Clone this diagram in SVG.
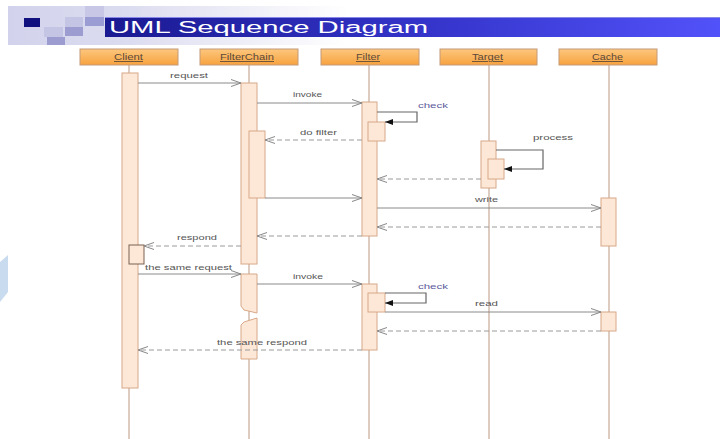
<svg xmlns="http://www.w3.org/2000/svg" width="720" height="439" viewBox="0 0 720 439">
<defs>
<linearGradient id="band" x1="0" y1="0" x2="1" y2="0">
<stop offset="0" stop-color="#d2d2ec"/>
<stop offset="0.35" stop-color="#dcdcf0"/>
<stop offset="1" stop-color="#ffffff"/>
</linearGradient>
<linearGradient id="bar" x1="0" y1="0" x2="1" y2="0">
<stop offset="0" stop-color="#1a1a92"/>
<stop offset="0.5" stop-color="#3333c8"/>
<stop offset="1" stop-color="#5252fa"/>
</linearGradient>
<linearGradient id="head" x1="0" y1="0" x2="0" y2="1">
<stop offset="0" stop-color="#fdc77e"/>
<stop offset="1" stop-color="#f7a23e"/>
</linearGradient>
<marker id="open" markerUnits="userSpaceOnUse" markerWidth="12" markerHeight="10" refX="11" refY="4" orient="auto">
<path d="M1,0.5 L11,4 L1,7.5" fill="none" stroke="#888" stroke-width="1"/>
</marker>
<marker id="fill" markerUnits="userSpaceOnUse" markerWidth="10" markerHeight="8" refX="8" refY="3" orient="auto">
<path d="M0,0 L8,3 L0,6 Z" fill="#111"/>
</marker>
<style>
.hd{fill:url(#head);stroke:#c49a78;stroke-width:1}
.hl{font-family:"Liberation Sans",Arial,sans-serif;font-size:8.5px;fill:#5a4838;text-decoration:underline}
.life{stroke:#d6bfb0;stroke-width:1.6}
.act{fill:#fde8d8;stroke:#d8a888;stroke-width:1}
.msg{stroke:#8a8a8a;stroke-width:1;fill:none;marker-end:url(#open)}
.ret{stroke:#9a9a9a;stroke-width:1;fill:none;stroke-dasharray:5,3;marker-end:url(#open)}
.self{stroke:#666;stroke-width:1.2;fill:none;marker-end:url(#fill)}
.lb{font-family:"Liberation Sans",Arial,sans-serif;font-size:8px;fill:#555}
.lbc{font-family:"Liberation Sans",Arial,sans-serif;font-size:8px;fill:#5a5a9a}
</style>
</defs>
<rect width="720" height="439" fill="#ffffff"/>
<polygon points="0,262 8,255 8,292 0,302" fill="#c9dbee"/>
<g id="header">
<rect x="8" y="6" width="340" height="39" fill="url(#band)"/>
<rect x="44" y="27" width="19" height="10" fill="#c4c4e4"/>
<rect x="65" y="17" width="18" height="10" fill="#c4c4e4"/>
<rect x="47" y="37" width="18" height="8" fill="#9c9cd0"/>
<rect x="65" y="27" width="18" height="9" fill="#9c9cd0"/>
<rect x="85" y="17" width="19" height="9" fill="#9c9cd4"/>
<rect x="85" y="6" width="19" height="11" fill="#c8c8e6"/>
<rect x="24" y="18" width="16" height="9" fill="#10107e"/>
<rect x="105" y="17" width="615" height="20" fill="url(#bar)"/>
<line x1="105" y1="17.5" x2="720" y2="17.5" stroke="#8888e8" stroke-width="1"/>
<text x="109" y="32.5" font-family="Liberation Sans,Arial,sans-serif" font-size="16" fill="#ffffff" textLength="319" lengthAdjust="spacingAndGlyphs">UML Sequence Diagram</text>
</g>
<g id="lifelines">
<line class="life" x1="129" y1="65" x2="129" y2="439"/>
<line class="life" x1="249" y1="65" x2="249" y2="439"/>
<line class="life" x1="369" y1="65" x2="369" y2="439"/>
<line class="life" x1="489" y1="65" x2="489" y2="439"/>
<line class="life" x1="609" y1="65" x2="609" y2="439"/>
</g>
<g id="client">
<rect class="hd" x="80" y="49" width="98" height="16"/>
<text class="hl" x="114" y="60" textLength="29" lengthAdjust="spacingAndGlyphs">Client</text>
<rect class="act" x="122" y="73" width="16" height="315"/>
<rect x="129" y="245" width="15" height="19" fill="#fde8d8" stroke="#7a6050" stroke-width="1"/>
</g>
<g id="filterchain">
<rect class="hd" x="200" y="49" width="98" height="16"/>
<text class="hl" x="220" y="60" textLength="54" lengthAdjust="spacingAndGlyphs">FilterChain</text>
<rect class="act" x="241" y="83" width="16" height="181"/>
<rect class="act" x="249" y="131" width="16" height="67"/>
<path class="act" d="M241,274 H257 V313 L244,310 L241,306 Z"/>
<path class="act" d="M244,322 L257,318 V359 H241 V325 Z"/>
</g>
<g id="filter">
<rect class="hd" x="321" y="49" width="98" height="16"/>
<text class="hl" x="356" y="60" textLength="24" lengthAdjust="spacingAndGlyphs">Filter</text>
<rect class="act" x="362" y="102" width="15" height="134"/>
<rect class="act" x="368" y="122" width="17" height="19"/>
<rect class="act" x="362" y="284" width="15" height="66"/>
<rect class="act" x="368" y="293" width="17" height="19"/>
</g>
<g id="target">
<rect class="hd" x="440" y="49" width="97" height="16"/>
<text class="hl" x="472" y="60" textLength="31" lengthAdjust="spacingAndGlyphs">Target</text>
<rect class="act" x="481" y="141" width="15" height="47"/>
<rect class="act" x="488" y="159" width="16" height="20"/>
</g>
<g id="cache">
<rect class="hd" x="559" y="49" width="98" height="16"/>
<text class="hl" x="592" y="60" textLength="31" lengthAdjust="spacingAndGlyphs">Cache</text>
<rect class="act" x="601" y="198" width="15" height="48"/>
<rect class="act" x="601" y="312" width="15" height="19"/>
</g>
<g id="connectors">
<line class="msg" x1="138" y1="83" x2="241" y2="83"/>
<line class="msg" x1="257" y1="103" x2="362" y2="103"/>
<path class="self" d="M377,112 H417 V122 H385"/>
<line class="ret" x1="362" y1="140" x2="265" y2="140"/>
<path class="self" d="M496,150 H543 V169 H504"/>
<line class="ret" x1="481" y1="179" x2="377" y2="179"/>
<line class="msg" x1="265" y1="198" x2="362" y2="198"/>
<line class="msg" x1="377" y1="208" x2="601" y2="208"/>
<line class="ret" x1="601" y1="227" x2="377" y2="227"/>
<line class="ret" x1="362" y1="236" x2="257" y2="236"/>
<line class="ret" x1="241" y1="246" x2="144" y2="246"/>
<line class="msg" x1="138" y1="274" x2="241" y2="274"/>
<line class="msg" x1="257" y1="284" x2="362" y2="284"/>
<path class="self" d="M385,293 H426 V303 H385"/>
<line class="msg" x1="385" y1="312" x2="601" y2="312"/>
<line class="ret" x1="601" y1="331" x2="377" y2="331"/>
<line class="ret" x1="362" y1="350" x2="138" y2="350"/>
</g>
<g id="labels">
<text class="lb" x="170" y="78" textLength="38" lengthAdjust="spacingAndGlyphs">request</text>
<text class="lb" x="293" y="97" textLength="29" lengthAdjust="spacingAndGlyphs">invoke</text>
<text class="lbc" x="418" y="108" textLength="30" lengthAdjust="spacingAndGlyphs">check</text>
<text class="lb" x="300" y="135" textLength="37" lengthAdjust="spacingAndGlyphs">do filter</text>
<text class="lb" x="533" y="140" textLength="40" lengthAdjust="spacingAndGlyphs">process</text>
<text class="lb" x="475" y="202" textLength="23" lengthAdjust="spacingAndGlyphs">write</text>
<text class="lb" x="177" y="240" textLength="40" lengthAdjust="spacingAndGlyphs">respond</text>
<text class="lb" x="145" y="270" textLength="87" lengthAdjust="spacingAndGlyphs">the same request</text>
<text class="lb" x="293" y="279" textLength="30" lengthAdjust="spacingAndGlyphs">invoke</text>
<text class="lbc" x="418" y="289" textLength="30" lengthAdjust="spacingAndGlyphs">check</text>
<text class="lb" x="475" y="306" textLength="23" lengthAdjust="spacingAndGlyphs">read</text>
<text class="lb" x="217" y="345" textLength="90" lengthAdjust="spacingAndGlyphs">the same respond</text>
</g>
</svg>
